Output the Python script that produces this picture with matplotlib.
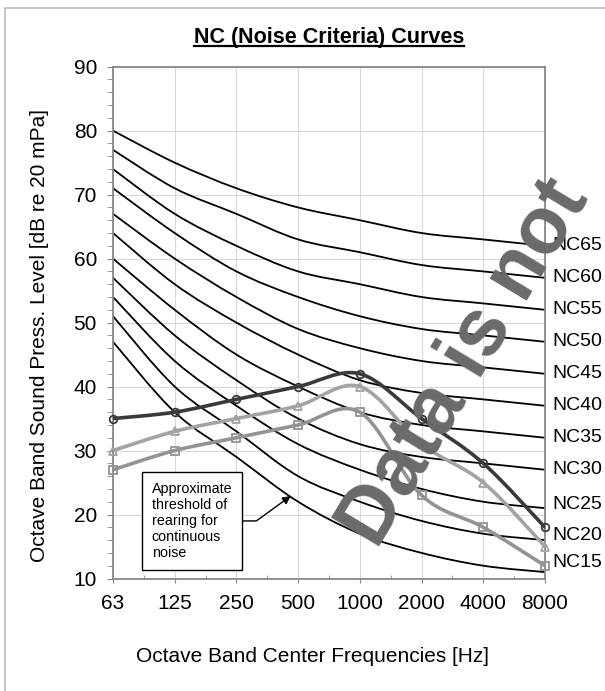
import matplotlib
matplotlib.use('Agg')
import numpy as np
import matplotlib.pyplot as plt
import matplotlib.transforms as mtransforms
from matplotlib.path import Path
from matplotlib.patches import PathPatch, Rectangle
from matplotlib.lines import Line2D
from matplotlib.ticker import MultipleLocator

plt.rcParams['font.family'] = ['Liberation Sans', 'DejaVu Sans']

# octave band centre frequencies
freqs = ['63', '125', '250', '500', '1000', '2000', '4000', '8000']

# NC curves (dB)
nc_names = ['NC15', 'NC20', 'NC25', 'NC30', 'NC35', 'NC40',
            'NC45', 'NC50', 'NC55', 'NC60', 'NC65']
nc15 = [47, 36, 29, 22, 17, 14, 12, 11]
nc20 = [51, 40, 33, 26, 22, 19, 17, 16]
nc25 = [54, 44, 37, 31, 27, 24, 22, 21]
nc30 = [57, 48, 41, 35, 31, 29, 28, 27]
nc35 = [60, 52, 45, 40, 36, 34, 33, 32]
nc40 = [64, 56, 50, 45, 41, 39, 38, 37]
nc45 = [67, 60, 54, 49, 46, 44, 43, 42]
nc50 = [71, 64, 58, 54, 51, 49, 48, 47]
nc55 = [74, 67, 62, 58, 56, 54, 53, 52]
nc60 = [77, 71, 67, 63, 61, 59, 58, 57]
nc65 = [80, 75, 71, 68, 66, 64, 63, 62]
nc_curves = [nc15, nc20, nc25, nc30, nc35, nc40, nc45, nc50, nc55, nc60, nc65]

# measured spectra
circle_series = [35, 36, 38, 40, 42, 35, 28, 18]
triangle_series = [30, 33, 35, 37, 40, 31, 25, 15]
square_series = [27, 30, 32, 34, 36, 23, 18, 12]

# label heights at the right edge (nudged apart at the bottom)
nc_label_y = [12.5, 16.7, 21.5, 27, 32, 37, 42, 47, 52, 57, 62]


def smooth_path(xs, ys):
    # Excel-style smoothed line: cubic Bezier through every point
    pts = np.column_stack([xs, ys]).astype(float)
    n = len(pts)
    verts = [pts[0]]
    codes = [Path.MOVETO]
    for i in range(n - 1):
        p0 = pts[i - 1] if i > 0 else pts[i]
        p1 = pts[i]
        p2 = pts[i + 1]
        p3 = pts[i + 2] if i + 2 < n else pts[i + 1]
        verts += [p1 + (p2 - p0) / 6, p2 - (p3 - p1) / 6, p2]
        codes += [Path.CURVE4] * 3
    return Path(verts, codes)


fig = plt.figure(figsize=(6.05, 6.91), dpi=100)
ax = fig.add_axes([113 / 605, 1 - 578.5 / 691, 432 / 605, 511.8 / 691])

x = np.arange(len(freqs))

for curve in nc_curves:
    ax.add_patch(PathPatch(smooth_path(x, curve), fc='none', ec='black',
                           lw=1.3, zorder=2))

series = [
    (circle_series, 'o', '#3a3a3a', 5.5),
    (triangle_series, '^', '#a3a3a3', 6),
    (square_series, 's', '#939393', 5.5),
]
for vals, mk, col, ms in series:
    ax.add_patch(PathPatch(smooth_path(x, vals), fc='none', ec=col,
                           lw=2.6, zorder=3, capstyle='round'))
    ax.plot(x, vals, linestyle='none', marker=mk, ms=ms, mfc='none',
            mec=col, mew=1.3, zorder=4, clip_on=False)

ax.set_xlim(0, 7)
ax.set_ylim(10, 90)
ax.set_xticks(x)
ax.set_xticklabels(freqs)
ax.xaxis.set_minor_locator(MultipleLocator(0.5))
ax.set_yticks(range(10, 91, 10))
ax.yaxis.set_minor_locator(MultipleLocator(2))

ax.tick_params(axis='both', which='major', labelsize=15, colors='#888888',
               labelcolor='black')
ax.tick_params(axis='y', which='major', direction='out', length=4.5, pad=7)
ax.tick_params(axis='y', which='minor', direction='out', length=4, color='#888888')
ax.tick_params(axis='x', which='major', direction='out', length=3, pad=8.5)
ax.tick_params(axis='x', which='minor', direction='in', length=3, color='#888888')

ax.grid(True, which='major', color='#d9d9d9', lw=0.8)
ax.set_axisbelow(True)
for sp in ax.spines.values():
    sp.set_color('#888888')
    sp.set_linewidth(1.3)

# NC labels to the right of the plot
lab_tr = mtransforms.blended_transform_factory(ax.transAxes, ax.transData)
for name, yv in zip(nc_names, nc_label_y):
    ax.text(1.018, yv, name, transform=lab_tr, ha='left', va='center',
            fontsize=14, clip_on=False)

# annotation box
ax.annotate('Approximate\nthreshold of\nrearing for\ncontinuous\nnoise',
            xy=(2.88, 22.9), xytext=(1.28, 19.0), textcoords='data',
            ha='center', va='center', multialignment='left', fontsize=10.3,
            bbox=dict(boxstyle='square,pad=0.7', fc='white', ec='black', lw=1),
            arrowprops=dict(arrowstyle='-|>', color='black', lw=1,
                            relpos=(1, 0.5), mutation_scale=12,
                            shrinkA=0, shrinkB=0,
                            connectionstyle='angle,angleA=0,angleB=36,rad=0'),
            zorder=5)

# titles
title = fig.text(329 / 605, 1 - 37 / 691, 'NC (Noise Criteria) Curves',
                 ha='center', va='center', fontsize=15.5, fontweight='bold')
fig.text(40 / 605, 1 - 335 / 691, 'Octave Band Sound Press. Level [dB re 20 mPa]',
         rotation=90, ha='center', va='center', fontsize=15)
fig.text(313 / 605, 1 - 657 / 691, 'Octave Band Center Frequencies [Hz]',
         ha='center', va='center', fontsize=15)

# watermark
fig.text(377 / 605, 1 - 550 / 691, 'Data is not', rotation=59,
         rotation_mode='anchor', ha='left', va='baseline', fontsize=58,
         fontweight='bold', color='#6a6a6a', zorder=10)

# outer frame
fig.patches.append(Rectangle((5 / 605, -0.1), 1.2, 1.1 - 8 / 691,
                             transform=fig.transFigure, fc='none',
                             ec='#bbbbbb', lw=1.2))

# underline the title
fig.canvas.draw()
bb = title.get_window_extent().transformed(fig.transFigure.inverted())
uy = bb.y0 + 1.5 / 691
fig.add_artist(Line2D([bb.x0, bb.x1], [uy, uy], transform=fig.transFigure,
                      color='black', lw=1.6))

fig.savefig('out.png', dpi=100)
